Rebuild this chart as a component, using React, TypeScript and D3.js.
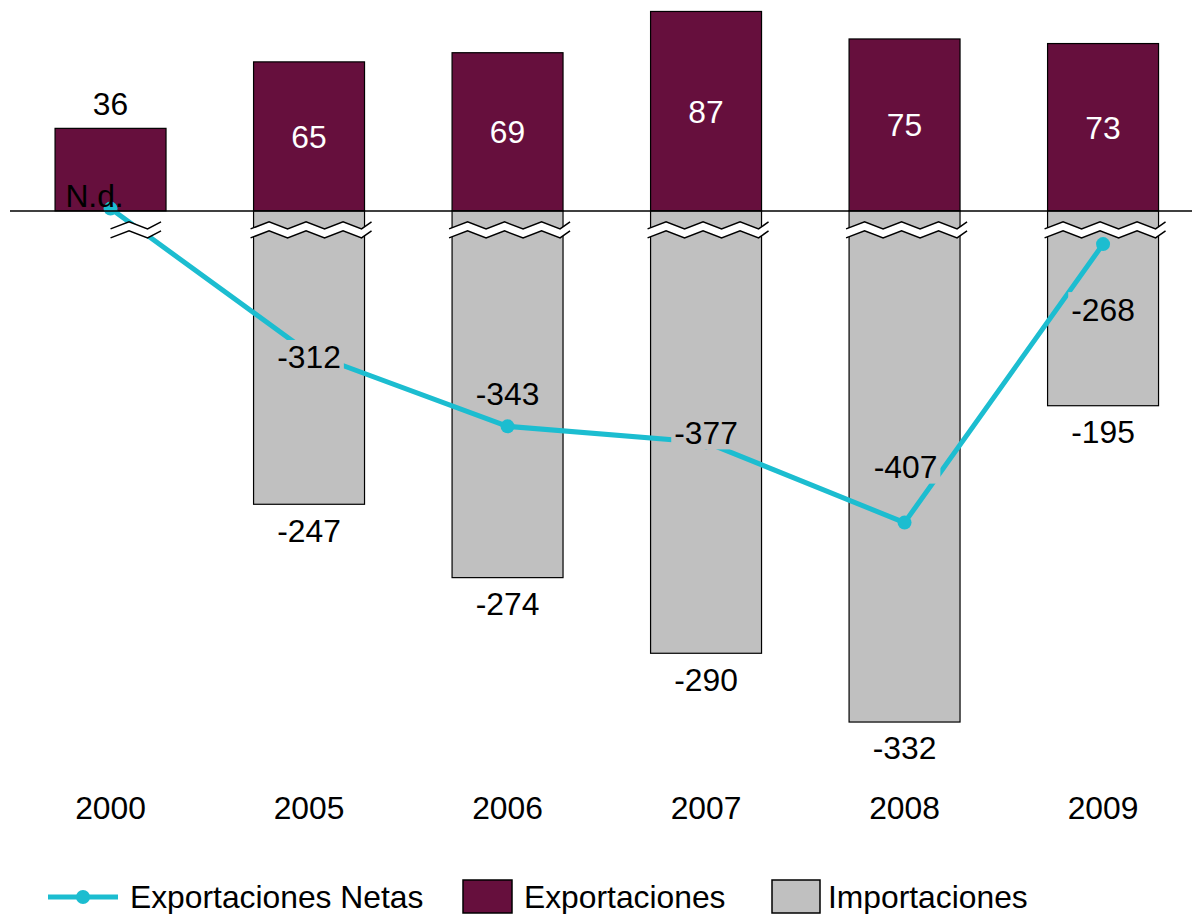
import React from "react";
import * as d3 from "d3";

// Categorías (años)
const anios = ["2000", "2005", "2006", "2007", "2008", "2009"];
// Valores rotulados en el gráfico
const exportaciones = [36, 65, 69, 87, 75, 73];
const importaciones: (number | null)[] = [null, -247, -274, -290, -332, -195];
const exportacionesNetas: (number | null)[] = [null, -312, -343, -377, -407, -268];
// El gráfico original usa un eje cortado: longitudes dibujadas (unidades del eje)
const importacionesEscala: (number | null)[] = [null, -128, -160, -193, -223, -85];
const netasEscala = [1, -62, -94, -101, -136, -14.5];

// Ubicación manual de las etiquetas de la serie neta (desplazamiento en px)
const netLabelDy = [-13, 4, -33, -10, -56, 65];
const netLabelDx = [-16, 0, 0, 0, 1, 0];

const W = 1192;
const H = 914;
const FONT = "'Liberation Sans', Arial, Helvetica, sans-serif";
const FS = 31.8;
const C_EXP = "#660F3D";
const C_IMP = "#C0C0C0";
const C_NET = "#1CBDD0";

export default function App() {
  const x = d3
    .scaleBand<string>()
    .domain(anios)
    .range([10, 1203.6])
    .paddingInner(0.441)
    .paddingOuter(0.227);
  const y = d3.scaleLinear().domain([-240, 92]).range([761, 0]);
  const bw = x.bandwidth();
  const y0 = y(0);
  const cx = (i: number) => (x(anios[i]) as number) + bw / 2;

  const line = d3
    .line<number>()
    .x((_, i) => cx(i))
    .y((d) => y(d));

  // zigzag del corte de eje
  const zig = (x0: number, x1: number, base: number) => {
    const step = 18.5;
    const n = Math.ceil((x1 - x0) / step);
    const pts: [number, number][] = d3.range(n + 1).map((k) => {
      const xx = Math.min(x0 + k * step, x1);
      return [xx, base + (k % 2 === 0 ? 0 : -7)];
    });
    return pts;
  };
  const breaks = anios.map((a, i) => {
    const bx = x(a) as number;
    const x0 = importacionesEscala[i] === null ? cx(i) : bx - 3;
    const x1 = importacionesEscala[i] === null ? bx + bw - 5 : bx + bw + 7;
    const up = zig(x0, x1, y0 + 18);
    const lo = up.map(([px, py]) => [px, py + 9] as [number, number]);
    const poly = [...up, ...lo.slice().reverse()];
    const l = d3.line();
    return (
      <g key={"br" + a}>
        <path d={(l(poly) as string) + "Z"} fill="#fff" stroke="none" />
        <path d={l(up) as string} fill="none" stroke="#000" strokeWidth={1.5} />
        <path d={l(lo) as string} fill="none" stroke="#000" strokeWidth={1.5} />
      </g>
    );
  });

  const textW = (s: string) => {
    const widths: Record<string, number> = { "-": 0.333, ".": 0.278, N: 0.722, d: 0.556 };
    return s.split("").reduce((acc, ch) => acc + (widths[ch] ?? 0.556), 0) * FS;
  };

  return (
    <svg
      width={W}
      height={H}
      style={{ position: "absolute", left: 0, top: 0, background: "#fff" }}
      fontFamily={FONT}
      fontSize={FS}
    >
      {/* Exportaciones */}
      {exportaciones.map((v, i) => (
        <rect
          key={"e" + i}
          x={x(anios[i])}
          y={y(v)}
          width={bw}
          height={y0 - y(v)}
          fill={C_EXP}
          stroke="#000"
          strokeWidth={1.2}
        />
      ))}
      {/* Importaciones */}
      {importacionesEscala.map((v, i) =>
        v === null ? null : (
          <rect
            key={"i" + i}
            x={x(anios[i])}
            y={y0}
            width={bw}
            height={y(v) - y0}
            fill={C_IMP}
            stroke="#000"
            strokeWidth={1.2}
          />
        )
      )}
      {/* Exportaciones netas */}
      <path d={line(netasEscala) as string} fill="none" stroke={C_NET} strokeWidth={5} strokeLinejoin="round" />
      {netasEscala.map((v, i) => (
        <circle key={"m" + i} cx={cx(i)} cy={y(v)} r={7} fill={C_NET} />
      ))}
      {breaks}
      {/* eje */}
      <line x1={10} x2={W} y1={y0} y2={y0} stroke="#000" strokeWidth={1.5} />

      {/* etiquetas exportaciones */}
      {exportaciones.map((v, i) => {
        const inside = i > 0;
        const ty = inside ? (y(v) + y0) / 2 : y(v) - 25;
        return (
          <text
            key={"el" + i}
            x={cx(i)}
            y={ty}
            dy="0.36em"
            textAnchor="middle"
            fill={inside ? "#fff" : "#000"}
          >
            {v}
          </text>
        );
      })}
      {/* etiquetas importaciones */}
      {importaciones.map((v, i) =>
        v === null ? null : (
          <text
            key={"il" + i}
            x={cx(i)}
            y={y(importacionesEscala[i] as number) + 26}
            dy="0.36em"
            textAnchor="middle"
            fill="#000"
          >
            {v}
          </text>
        )
      )}
      {/* etiquetas netas */}
      {exportacionesNetas.map((v, i) => {
        const s = v === null ? "N.d." : String(v);
        const lx = cx(i) + netLabelDx[i];
        const ly = y(netasEscala[i]) + netLabelDy[i];
        const tw = textW(s);
        return (
          <g key={"nl" + i}>
            {v !== null && (
              <rect x={lx - tw / 2 - 3} y={ly - 17} width={tw + 6} height={34} fill={C_IMP} />
            )}
            <text x={lx} y={ly} dy="0.36em" textAnchor="middle" fill="#000">
              {s}
            </text>
          </g>
        );
      })}
      {/* años */}
      {anios.map((a, i) => (
        <text key={"a" + a} x={cx(i)} y={808} dy="0.36em" textAnchor="middle" fill="#000">
          {a}
        </text>
      ))}

      {/* leyenda */}
      <g>
        <line x1={48} x2={118} y1={897} y2={897} stroke={C_NET} strokeWidth={5} />
        <circle cx={83} cy={897} r={7} fill={C_NET} />
        <text x={130} y={897} dy="0.36em" fill="#000">
          Exportaciones Netas
        </text>
        <rect x={463} y={880} width={49} height={33} fill={C_EXP} stroke="#000" strokeWidth={1.5} />
        <text x={524} y={897} dy="0.36em" fill="#000">
          Exportaciones
        </text>
        <rect x={772} y={880} width={48} height={33} fill={C_IMP} stroke="#000" strokeWidth={1.5} />
        <text x={828} y={897} dy="0.36em" fill="#000">
          Importaciones
        </text>
      </g>
    </svg>
  );
}
